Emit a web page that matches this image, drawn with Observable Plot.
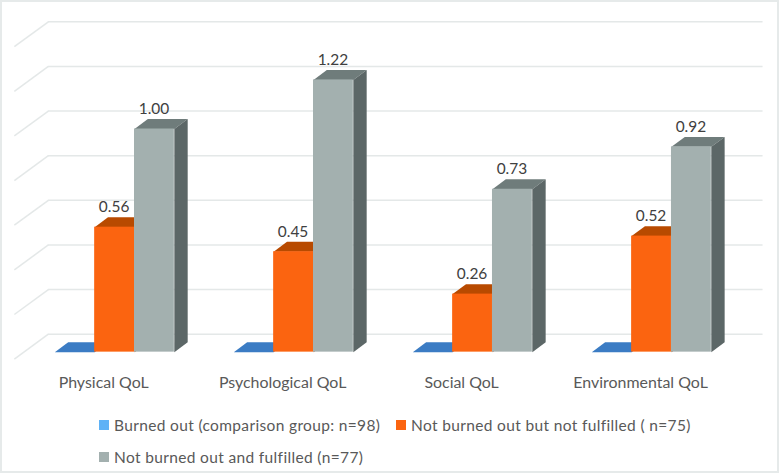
<!DOCTYPE html>
<html>
<head>
<meta charset="utf-8">
<script src="https://cdn.jsdelivr.net/npm/d3@7"></script>
<script src="https://cdn.jsdelivr.net/npm/@observablehq/plot@0.6"></script>
<style>
html,body{margin:0;padding:0;background:#fff}
#frame{position:relative;box-sizing:border-box;width:779px;height:473px;border:2px solid #e6eaea;overflow:hidden}
#chart{position:absolute;left:-2px;top:-2px}
#chart svg{display:block;background:transparent}
#legend{position:absolute;left:0;top:0;font:15.5px Lato,sans-serif;color:#595959;letter-spacing:.35px}
.item{position:absolute;white-space:nowrap;line-height:18px}
.item i{position:absolute;left:-15px;top:4px;width:10px;height:10px}
</style>
</head>
<body>
<div id="frame"><div id="chart"></div><div id="legend"></div></div>
<script>
const categories = ["Physical QoL", "Psychological QoL", "Social QoL", "Environmental QoL"];
const burnedOut = [0, 0, 0, 0];
const notFulfilled = [0.56, 0.45, 0.26, 0.52];
const fulfilled = [1.00, 1.22, 0.73, 0.92];
const yTicks = [0, 0.2, 0.4, 0.6, 0.8, 1.0, 1.2, 1.4];
const seriesNames = [
  "Burned out (comparison group: n=98)",
  "Not burned out but not fulfilled ( n=75)",
  "Not burned out and fulfilled (n=77)"
];
const frontColors = ["#3b7cc4", "#fb6410", "#a3b0af"];
const topColors = ["#3b7cc4", "#b84a00", "#6f7c7b"];
const sideColors = ["#2b5d94", "#a84300", "#5c6767"];
const swatchColors = ["#5fb2f6", "#fb6410", "#a3b0af"];

const pxX = 1 / 179.7, pxY = 1 / 224;
const barW = 40 * pxX, depthX = 13.4 * pxX, depthY = 10 * pxY;
const allSeries = [burnedOut, notFulfilled, fulfilled];

const bars = allSeries.flatMap((vals, s) => vals.map((v, i) => ({
  s, i, v, x1: i + (s - 1.5) * barW, x2: i + (s - 0.5) * barW
})));

const faces = bars.flatMap(b => {
  const top = [[b.x1, b.v], [b.x2, b.v], [b.x2 + depthX, b.v + depthY], [b.x1 + depthX, b.v + depthY]]
    .map(([x, y]) => ({id: `t${b.s}-${b.i}`, x, y, c: topColors[b.s]}));
  const side = b.v > 0
    ? [[b.x2, 0], [b.x2 + depthX, depthY], [b.x2 + depthX, b.v + depthY], [b.x2, b.v]]
      .map(([x, y]) => ({id: `s${b.s}-${b.i}`, x, y, c: sideColors[b.s]}))
    : [];
  return [...top, ...side];
});

const plot = Plot.plot({
  width: 780, height: 405,
  marginTop: 0, marginRight: 0, marginBottom: 45, marginLeft: 0,
  style: {background: "transparent"},
  x: {type: "linear", domain: [-0.56, 3.623], range: [13.9, 765.5], axis: null},
  y: {domain: [0, 1.4], range: [353, 39.4], axis: null},
  marks: [
    Plot.ruleY(yTicks, {x1: -0.37, x2: 3.623, dy: -18, stroke: "#e4e8e8", strokeWidth: 1.5}),
    Plot.link(yTicks, {x1: -0.56, x2: -0.37, y1: v => v - 7 * pxY, y2: v => v + 18 * pxY, stroke: "#e4e8e8", strokeWidth: 1.5}),
    Plot.line(faces, {x: "x", y: "y", z: "id", fill: "c", stroke: "none", curve: "linear-closed"}),
    Plot.rect(bars, {x1: "x1", x2: "x2", y1: 0, y2: "v", fill: b => frontColors[b.s]}),
    Plot.text(bars.filter(b => b.v > 0), {
      x: b => (b.x1 + b.x2) / 2, y: "v", text: b => b.v.toFixed(2), dy: -20, dx: -0.5,
      fill: "#404040", fontSize: 15.5, fontFamily: "Lato, sans-serif"
    }),
    Plot.axisX({
      ticks: d3.range(categories.length), tickFormat: i => categories[i],
      tickSize: 0, tickPadding: 18, label: null, dx: -11,
      fontSize: 16, fontFamily: "Lato, sans-serif", color: "#595959"
    })
  ]
});
document.getElementById("chart").appendChild(plot);

const legendPos = [[114, 415.5], [411, 415.5], [114, 448]];
const legend = document.getElementById("legend");
seriesNames.forEach((name, s) => {
  const el = document.createElement("div");
  el.className = "item";
  el.style.left = (legendPos[s][0] - 2) + "px";
  el.style.top = (legendPos[s][1] - 2) + "px";
  const sw = document.createElement("i");
  sw.style.background = swatchColors[s];
  el.appendChild(sw);
  el.appendChild(document.createTextNode(name));
  legend.appendChild(el);
});
</script>
</body>
</html>
